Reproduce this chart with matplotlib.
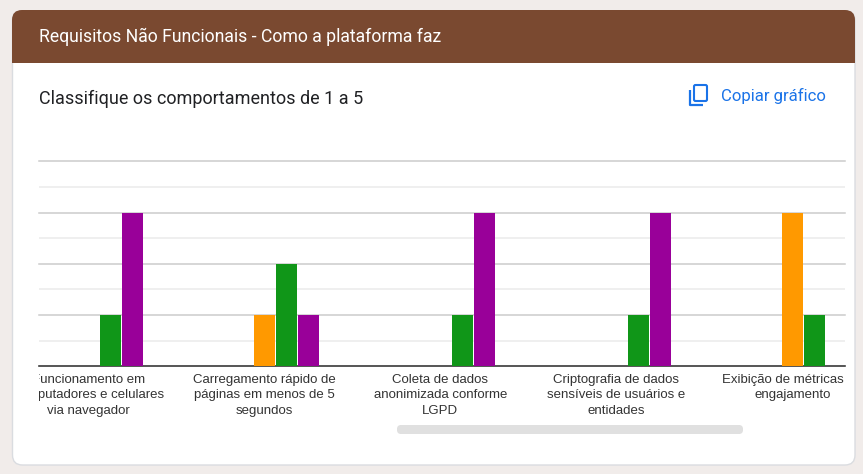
import matplotlib
matplotlib.use("Agg")
from matplotlib import pyplot as plt
from matplotlib.patches import FancyBboxPatch, Rectangle
from matplotlib.transforms import Bbox
import numpy as np

categories = [
    "Funcionamento em\ncomputadores e celulares\nvia navegador",
    "Carregamento rápido de\npáginas em menos de 5\nsegundos",
    "Coleta de dados\nanonimizada conforme\nLGPD",
    "Criptografia de dados\nsensíveis de usuários e\nentidades",
    "Exibição de métricas de\nengajamento",
]
series_names = ["1", "2", "3", "4", "5"]
series_values = [
    [0, 0, 0, 0, 0],
    [0, 0, 0, 0, 0],
    [0, 1, 0, 0, 3],
    [1, 2, 1, 1, 1],
    [3, 1, 3, 3, 0],
]
series_colors = ["#3366cc", "#dc3912", "#ff9900", "#109618", "#990099"]
y_major = [0, 1, 2, 3, 4]
y_minor = [0.5, 1.5, 2.5, 3.5]

W, H = 863, 474
BROWN = "#7a4930"
BLUE = "#1a73e8"

fig = plt.figure(figsize=(W / 100, H / 100), dpi=100, facecolor="#f1ecea")

# page furniture lives on a full size axes in pixel units
page = fig.add_axes([0, 0, 1, 1])
page.set_xlim(0, W)
page.set_ylim(H, 0)
page.axis("off")

card = FancyBboxPatch((12.5, 11), 842.5, 454, boxstyle="round,pad=0,rounding_size=10",
                      facecolor="white", edgecolor="#dadce0", linewidth=1)
page.add_patch(card)
header = FancyBboxPatch((12, 10), 843, 30, boxstyle="round,pad=0,rounding_size=10",
                        facecolor=BROWN, edgecolor="none")
page.add_patch(header)
page.add_patch(Rectangle((12, 25), 843, 38, facecolor=BROWN, edgecolor="none"))

page.text(39, 36.8, "Requisitos Não Funcionais - Como a plataforma faz", color="white",
          family="Roboto", fontsize=12.68, va="center", ha="left")
page.text(39, 98.6, "Classifique os comportamentos de 1 a 5", color="#202124",
          family="Roboto", fontsize=13.0, va="center", ha="left")
page.text(721, 96, "Copiar gráfico", color=BLUE, family="Roboto",
          fontsize=12.1, va="center", ha="left")

# copy icon
page.add_patch(FancyBboxPatch((694, 85), 13, 16, boxstyle="round,pad=0,rounding_size=1.5",
                              facecolor="none", edgecolor=BLUE, linewidth=1.5))
page.plot([690, 690, 703], [90, 105, 105], color=BLUE, linewidth=1.6, solid_capstyle="butt",
          solid_joinstyle="round")

# scrollbar under the chart
scrollbar = FancyBboxPatch((397, 425), 346, 9, boxstyle="round,pad=0,rounding_size=4",
                           facecolor="#e0e0e0", edgecolor="none")
page.add_patch(scrollbar)

# bar chart
x0, x1, y_top, y_bottom = 39, 845, 161.5, 366.2
ax = fig.add_axes([x0 / W, 1 - y_bottom / H, (x1 - x0) / W, (y_bottom - y_top) / H])
ax.patch.set_alpha(0)
group_px = 176.0
ax.set_xlim((x0 - 88.4) / group_px, (x1 - 88.4) / group_px)
ax.set_ylim(0, 4)

x = np.arange(len(categories))
step = 22 / group_px
for i, (name, values, color) in enumerate(zip(series_names, series_values, series_colors)):
    ax.bar(x + (i - 2) * step, values, width=20.8 / group_px, color=color, label=name, zorder=3)

ax.set_yticks(y_major)
ax.set_yticks(y_minor, minor=True)
ax.grid(axis="y", which="major", color="#cccccc", linewidth=1.1, zorder=1)
ax.grid(axis="y", which="minor", color="#ebebeb", linewidth=1.1, zorder=1)
for line in ax.get_ygridlines():
    line.set_clip_on(False)
ax.tick_params(axis="y", which="both", left=False, labelleft=False)
ax.tick_params(axis="x", length=0, pad=5.6)
for side in ["top", "left", "right"]:
    ax.spines[side].set_visible(False)
ax.spines["bottom"].set_color("#333333")
ax.spines["bottom"].set_linewidth(1.1)

ax.set_xticks(x)
ax.set_xticklabels(categories, family="Liberation Sans", fontsize=9.5, color="#333333",
                   linespacing=1.37)

# labels scroll with the chart, so cut them off at its sides
clip = Bbox.from_extents(x0, 0, x1, H)
for label in ax.get_xticklabels():
    label.set_clip_on(True)
    label.set_clip_box(clip)

fig.savefig("out.png", dpi=100, facecolor=fig.get_facecolor())
